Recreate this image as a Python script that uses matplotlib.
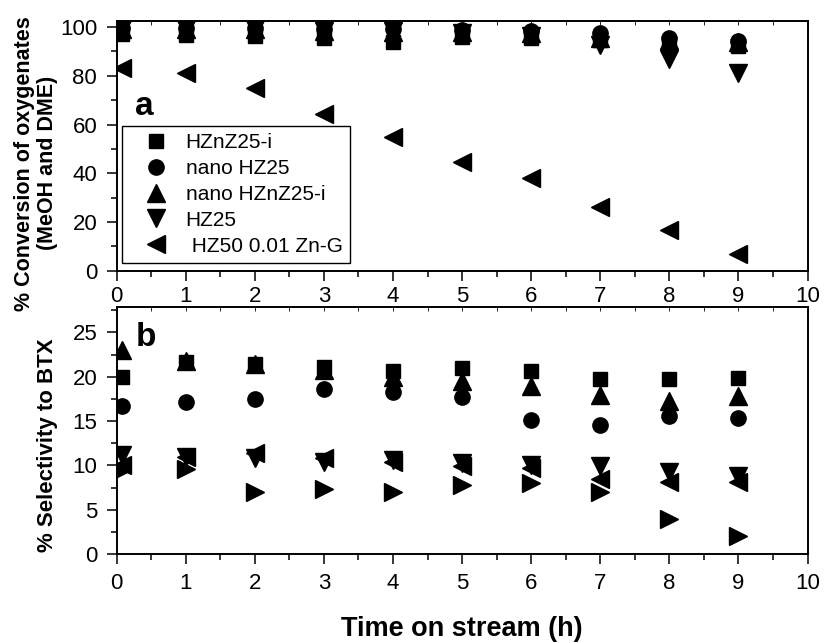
import numpy as np
import matplotlib.pyplot as plt
from matplotlib.ticker import MultipleLocator


# ============================================================
# 1. DATA
# ============================================================

TIME_H = [0.08, 1, 2, 3, 4, 5, 6, 7, 8, 9]

LABELS = ["HZnZ25-i", "nano HZ25", "nano HZnZ25-i", "HZ25", " HZ50 0.01 Zn-G"]

# panel a: conversion of oxygenates (%)
CONV_HZNZ25_I = [97.3, 96.7, 96.4, 95.5, 94.0, 95.8, 95.3, 94.5, 93.1, 92.4]
CONV_NANO_HZ25 = [99.5, 99.5, 99.5, 99.3, 99.0, 98.8, 98.5, 97.5, 95.7, 94.4]
CONV_NANO_HZNZ25_I = [99.0, 99.0, 99.0, 98.5, 98.0, 98.0, 97.5, 95.5, 94.8, 93.8]
CONV_HZ25 = [99.3, 99.0, 99.0, 98.5, 98.2, 97.5, 96.5, 92.6, 86.7, 81.2]
CONV_HZ50_ZN_G = [83.0, 81.3, 75.0, 64.3, 55.0, 44.5, 38.1, 26.1, 16.9, 6.9]

# panel b: selectivity to BTX (%)
SEL_HZNZ25_I = [20.0, 21.7, 21.4, 21.1, 20.7, 21.0, 20.7, 19.7, 19.8, 19.9]
SEL_NANO_HZ25 = [16.7, 17.2, 17.5, 18.6, 18.3, 17.7, 15.1, 14.6, 15.6, 15.3]
SEL_NANO_HZNZ25_I = [23.0, 21.8, 21.4, 20.8, 20.0, 19.5, 18.9, 17.9, 17.3, 17.8]
SEL_HZ25 = [11.2, 11.0, 10.8, 10.4, 10.6, 10.3, 10.0, 9.9, 9.2, 8.8]
SEL_HZ50_ZN_G = [10.0, 11.0, 11.4, 10.8, 10.4, 9.9, 9.7, 8.5, 8.1, 8.1]
SEL_EXTRA = [9.5, 9.6, 7.0, 7.3, 7.0, 7.8, 8.0, 7.0, 4.0, 2.0]

MARKERS = ["s", "o", "^", "v", "<"]
MSIZES = [10.5, 11.0, 12.5, 12.5, 12.5]

TICK_FS = 16
LABEL_FS = 15.5

plt.rcParams["font.family"] = ["Liberation Sans", "DejaVu Sans"]


# ============================================================
# 2. Helpers
# ============================================================

def style_axis(ax, ymax, ymajor, xpad):
    ax.set_xlim(0, 10)
    ax.set_ylim(0, ymax)
    ax.xaxis.set_major_locator(MultipleLocator(1))
    ax.xaxis.set_minor_locator(MultipleLocator(0.5))
    ax.yaxis.set_major_locator(MultipleLocator(ymajor))
    ax.yaxis.set_minor_locator(MultipleLocator(ymajor / 2))

    for sp in ax.spines.values():
        sp.set_linewidth(1.4)

    ax.tick_params(axis="both", which="major", direction="out", length=7,
                   width=1.1, labelsize=TICK_FS)
    ax.tick_params(axis="both", which="minor", direction="out", length=4,
                   width=1.1)
    ax.tick_params(axis="x", which="both", top=True, pad=xpad)
    ax.tick_params(axis="y", which="major", pad=7)
    # ticks on the top spine point inward and are short
    for t in ax.xaxis.get_major_ticks() + ax.xaxis.get_minor_ticks():
        t.tick2line.set_marker(3)
        t.tick2line.set_markersize(3)
        t.tick2line.set_markeredgewidth(0.6)
        t.tick2line.set_color("0.5")


def scatter_series(ax, series, labels=None):
    for i, vals in enumerate(series):
        lab = labels[i] if labels else None
        ax.plot(TIME_H, vals, linestyle="none", marker=MARKERS[i],
                markersize=MSIZES[i], color="black", label=lab)


# ============================================================
# 3. Main
# ============================================================

def main():
    fig = plt.figure(figsize=(8.24, 6.43), dpi=100)
    ax_a = fig.add_axes([0.1416, 0.579, 0.8384, 0.3888])
    ax_b = fig.add_axes([0.1416, 0.1384, 0.8384, 0.3846])

    conv = [CONV_HZNZ25_I, CONV_NANO_HZ25, CONV_NANO_HZNZ25_I,
            CONV_HZ25, CONV_HZ50_ZN_G]
    sel = [SEL_HZNZ25_I, SEL_NANO_HZ25, SEL_NANO_HZNZ25_I,
           SEL_HZ25, SEL_HZ50_ZN_G]

    scatter_series(ax_a, conv, LABELS)
    scatter_series(ax_b, sel)
    ax_b.plot(TIME_H, SEL_EXTRA, linestyle="none", marker=">",
              markersize=12.5, color="black")

    style_axis(ax_a, 102.6, 20, 4)
    style_axis(ax_b, 27.9, 5, 6.5)

    ax_a.set_ylabel("% Conversion of oxygenates\n(MeOH and DME)",
                    fontsize=LABEL_FS, fontweight="bold", linespacing=1.1)
    ax_a.yaxis.set_label_coords(-0.085, 0.43)
    ax_b.set_ylabel("% Selectivity to BTX", fontsize=16,
                    fontweight="bold")
    ax_b.yaxis.set_label_coords(-0.085, 0.44)
    ax_b.set_xlabel("Time on stream (h)", fontsize=19.5, fontweight="bold",
                    labelpad=16)

    ax_a.text(0.27, 64, "a", fontsize=24, fontweight="bold", ha="left",
              va="baseline")
    ax_b.text(0.27, 23.5, "b", fontsize=24, fontweight="bold", ha="left",
              va="baseline")

    leg = ax_a.legend(loc="lower left", bbox_to_anchor=(0.0077, 0.031),
                      borderaxespad=0, fontsize=15, frameon=True,
                      fancybox=False, framealpha=1, edgecolor="black",
                      labelspacing=0.33, handletextpad=0.15, borderpad=0.35,
                      handlelength=2.55)
    leg.get_frame().set_linewidth(1.0)

    fig.savefig("out.png", dpi=100)
    plt.close(fig)


if __name__ == "__main__":
    main()
